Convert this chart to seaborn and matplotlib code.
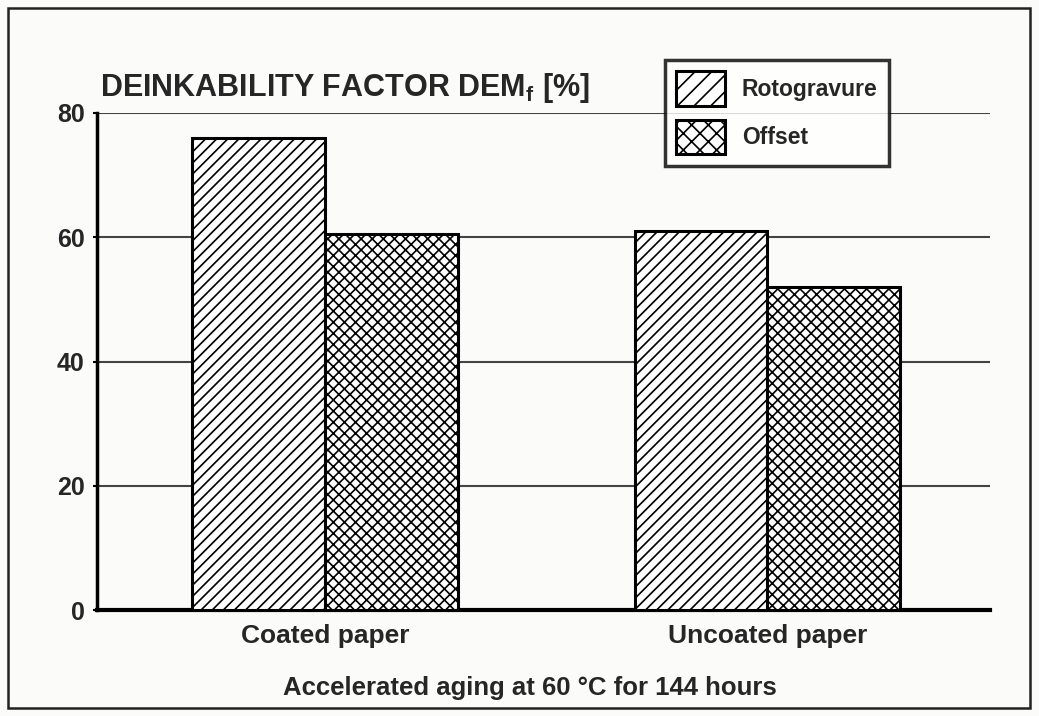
import matplotlib
matplotlib.use("Agg")
import matplotlib.pyplot as plt
import seaborn as sns
import pandas as pd
from matplotlib.patches import Patch, Rectangle

categories = ["Coated paper", "Uncoated paper"]
methods = ["Rotogravure", "Offset"]
rotogravure = [76, 61]
offset = [60.5, 52]
yticks = [0, 20, 40, 60, 80]

df = pd.DataFrame({
    "Paper": categories * 2,
    "Method": [methods[0]] * 2 + [methods[1]] * 2,
    "Value": rotogravure + offset,
})

sns.set_theme(style="white")
plt.rcParams["font.family"] = ["Liberation Sans", "DejaVu Sans"]
plt.rcParams["font.weight"] = "bold"
plt.rcParams["mathtext.fontset"] = "custom"
plt.rcParams["mathtext.rm"] = "Liberation Sans:bold"
plt.rcParams["mathtext.bf"] = "Liberation Sans:bold"
plt.rcParams["mathtext.it"] = "Liberation Sans:bold"
plt.rcParams["hatch.linewidth"] = 1.2
plt.rcParams["hatch.color"] = "#222222"

bg = "#fbfbfa"
fig = plt.figure(figsize=(10.39, 7.16), dpi=100, facecolor=bg)
ax = fig.add_axes([97 / 1039, 1 - 610 / 716, 893 / 1039, 497 / 716])
ax.set_facecolor(bg)

sns.barplot(data=df, x="Paper", y="Value", hue="Method", order=categories,
            hue_order=methods, palette=["white", "white"], width=0.6,
            edgecolor="black", linewidth=2.2, legend=False, ax=ax, zorder=3)

hatches = ["///", "xxx"]
for cont, h in zip(ax.containers, hatches):
    for bar in cont:
        bar.set_hatch(h)
        bar.set_facecolor("white")
        bar.set_edgecolor("black")

ax.set_xlim(-0.516, 1.504)
ax.set_ylim(0, 80)
ax.set_yticks(yticks)
ax.set_yticklabels([str(v) for v in yticks], fontsize=18, fontweight="bold")
ax.tick_params(axis="y", length=3, width=1.5, color="black", pad=6, left=True)
ax.tick_params(axis="x", length=0, pad=10, labelsize=19)
for lbl in ax.get_xticklabels():
    lbl.set_fontweight("bold")
ax.yaxis.grid(True, color="#444444", linewidth=1.5, zorder=0)
ax.set_axisbelow(True)

for s in ["top", "right"]:
    ax.spines[s].set_visible(False)
ax.spines["left"].set_linewidth(2.5)
ax.spines["left"].set_color("black")
ax.spines["bottom"].set_linewidth(3)
ax.spines["bottom"].set_color("black")

ax.set_ylabel("")
ax.set_xlabel("Accelerated aging at 60 °C for 144 hours", fontsize=18.5,
              fontweight="bold")
ax.xaxis.set_label_coords((530 - 97) / 893, (610 - 676) / 497)

fig.text(100 / 1039, 1 - 96 / 716, r"DEINKABILITY FACTOR DEM$_{\mathrm{f}}$ [%]",
         fontsize=22, fontweight="bold", ha="left", va="baseline")

handles = [Patch(facecolor="white", edgecolor="black", hatch=h, linewidth=2.2)
           for h in ["//", "xx"]]
leg = ax.legend(handles, methods, loc="upper left", bbox_to_anchor=(0.636, 1.107),
                borderaxespad=0, frameon=True, fancybox=False, fontsize=16.5,
                handlelength=2.1, handleheight=1.95, labelspacing=0.6,
                borderpad=0.5, handletextpad=0.75)
leg.get_frame().set_edgecolor("black")
leg.get_frame().set_linewidth(2.5)
leg.get_frame().set_facecolor("white")
leg.set_zorder(5)
for t in leg.get_texts():
    t.set_fontweight("bold")

fig.patches.append(Rectangle((8 / 1039, 8 / 716), 1022 / 1039, 700 / 716,
                             transform=fig.transFigure, fill=False,
                             edgecolor="#222222", linewidth=1.8))

fig.savefig("out.png", dpi=100, facecolor=bg)
